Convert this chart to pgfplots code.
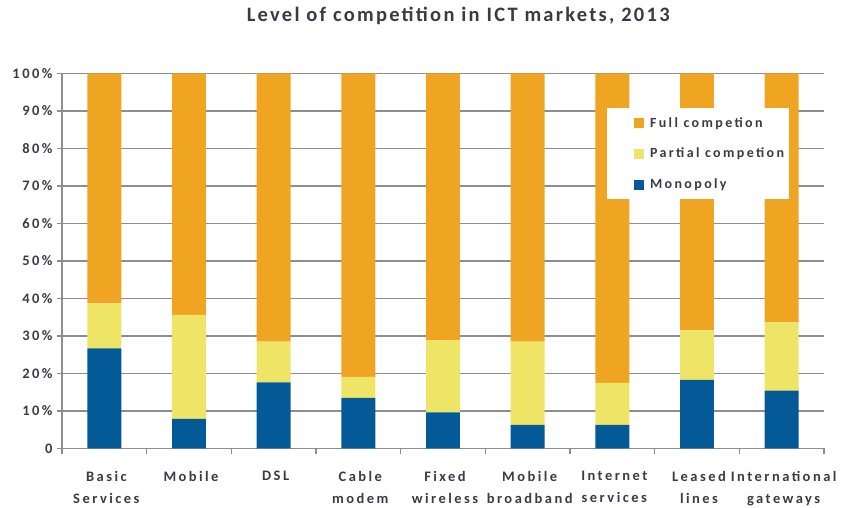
\documentclass[border=0pt]{standalone}
\usepackage{fontspec}
\setmainfont{Carlito}[LetterSpace=17]
\newfontfamily\titlefont{Carlito}[LetterSpace=11]
\usepackage{pgfplots}
\pgfplotsset{compat=1.18}
\definecolor{fullc}{HTML}{F0A522}
\definecolor{partc}{HTML}{EEE567}
\definecolor{monoc}{HTML}{035A97}
\definecolor{gridc}{HTML}{8E8E8E}
\definecolor{txtc}{HTML}{3A3A48}

\begin{document}
\begin{tikzpicture}[x=1pt,y=1pt]
\path[use as bounding box] (-62,-59.5) rectangle (789,448.5);
\begin{axis}[
  at={(0,0)}, anchor=south west,
  width=762pt, height=375pt, scale only axis,
  ybar stacked, bar width=0.40,
  xmin=-0.5, xmax=8.5, ymin=0, ymax=100,
  axis x line=bottom, axis y line=left,
  axis line style={-, gridc, line width=1.3pt},
  ytick={0,10,...,100},
  yticklabels={0,10\%,20\%,30\%,40\%,50\%,60\%,70\%,80\%,90\%,100\%},
  ymajorgrids, grid style={gridc, line width=1.3pt},
  xtick={0,...,8},
  xticklabels={Basic\\Services, Mobile, DSL, Cable\\modem, Fixed\\wireless,
    Mobile\\broadband, Internet\\services, Leased\\lines, International\\gateways},
  minor xtick={-0.5,0.5,...,8.5},
  tick align=outside,
  major x tick style={draw=none},
  minor tick length=6pt, major tick length=5pt,
  tick style={gridc, line width=1.1pt},
  tick label style={txtc, font=\fontsize{14.5}{22}\selectfont\bfseries},
  xticklabel style={align=center, anchor=north, yshift=-14pt, xshift=2pt},
  yticklabel style={xshift=-1pt},
  title={Level of competition in ICT markets, 2013},
  title style={at={(axis description cs:0.52,1)}, anchor=base, yshift=45.5pt,
    txtc, font=\fontsize{20.5}{22}\selectfont\titlefont\bfseries},
  reverse legend,
  legend cell align=left,
  legend style={at={(0.715,0.908)}, anchor=north west, fill=white, draw=none,
    font=\fontsize{14}{16}\selectfont\bfseries, text=txtc,
    row sep=15.5pt, inner xsep=3pt, inner ysep=7pt,
    nodes={inner sep=2pt}},
  legend image code/.code={\path (0pt,0pt) (38pt,0pt);
    \fill[#1] (24pt,-5pt) rectangle (34pt,5pt);},
]
\addplot[fill=monoc, draw=none] coordinates {
  (0,26.7) (1,7.9) (2,17.6) (3,13.5) (4,9.6) (5,6.3) (6,6.3) (7,18.3) (8,15.4)};
\addlegendentry{Monopoly}
\addplot[fill=partc, draw=none] coordinates {
  (0,12.0) (1,27.7) (2,10.9) (3,5.6) (4,19.2) (5,22.2) (6,11.2) (7,13.2) (8,18.2)};
\addlegendentry{Partial competion}
\addplot[fill=fullc, draw=none] coordinates {
  (0,61.3) (1,64.4) (2,71.5) (3,80.9) (4,71.2) (5,71.5) (6,82.5) (7,68.5) (8,66.4)};
\addlegendentry{Full competion}
\end{axis}
\end{tikzpicture}
\end{document}
